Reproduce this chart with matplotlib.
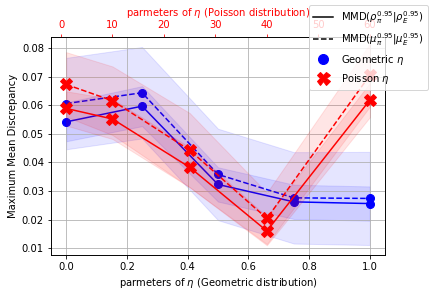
import matplotlib
matplotlib.use("Agg")
import matplotlib.pyplot as plt
from matplotlib.lines import Line2D
import numpy as np

# geometric eta (bottom axis)
geo_x = [0.0, 0.25, 0.5, 0.75, 1.0]
geo_rho = [0.0542, 0.0597, 0.0323, 0.0262, 0.0256]
geo_rho_std = [0.0068, 0.0070, 0.0060, 0.0060, 0.0060]
geo_mu = [0.0606, 0.0644, 0.0358, 0.0276, 0.0274]
geo_mu_std = [0.0160, 0.0160, 0.0160, 0.0160, 0.0163]

# poisson eta (top axis)
poi_x = [1, 10, 25, 40, 60]
poi_rho = [0.0589, 0.0552, 0.0383, 0.0160, 0.0618]
poi_rho_std = [0.0060, 0.0070, 0.0070, 0.0050, 0.0060]
poi_mu = [0.0673, 0.0616, 0.0443, 0.0204, 0.0705]
poi_mu_std = [0.0113, 0.0120, 0.0130, 0.0090, 0.0110]

fig = plt.figure(figsize=(430 / 72, 297 / 72), dpi=72)
ax = fig.add_axes([0.1186, 0.1414, 0.7767, 0.734])
ax2 = ax.twiny()

gx = np.array(geo_x)
for m, s, ls in [(geo_rho, geo_rho_std, "-"), (geo_mu, geo_mu_std, "--")]:
    m, s = np.array(m), np.array(s)
    ax.plot(gx, m, ls, color="b", marker="o", markersize=8, lw=1.5)
    ax.fill_between(gx, m - s, m + s, color="b", alpha=0.1)

px = np.array(poi_x)
for m, s, ls in [(poi_rho, poi_rho_std, "-"), (poi_mu, poi_mu_std, "--")]:
    m, s = np.array(m), np.array(s)
    ax2.plot(px, m, ls, color="r", marker="X", markersize=12, lw=1.5)
    ax2.fill_between(px, m - s, m + s, color="r", alpha=0.1)

ax.grid(True)
ax.set_ylim(0.0076, 0.0839)
ax.set_xlabel(r"parmeters of $\eta$ (Geometric distribution)")
ax.set_ylabel("Maximum Mean Discrepancy")
ax2.set_xlabel(r"parmeters of $\eta$ (Poisson distribution)", color="r")
ax2.tick_params(axis="x", colors="r")

handles = [
    Line2D([], [], color="k", ls="-"),
    Line2D([], [], color="k", ls="--"),
    Line2D([], [], color="b", marker="o", ls="", markersize=10),
    Line2D([], [], color="r", marker="X", ls="", markersize=13),
]
labels = [
    r"MMD($\rho_\pi^{0.95}|\rho_E^{0.95}$)",
    r"MMD($\mu_\pi^{0.95}|\mu_E^{0.95}$)",
    r"Geometric $\eta$",
    r"Poisson $\eta$",
]
fig.legend(handles, labels, loc="upper right", bbox_to_anchor=(433 / 430, 1 - 0 / 297))

fig.savefig("out.png", dpi=72)
